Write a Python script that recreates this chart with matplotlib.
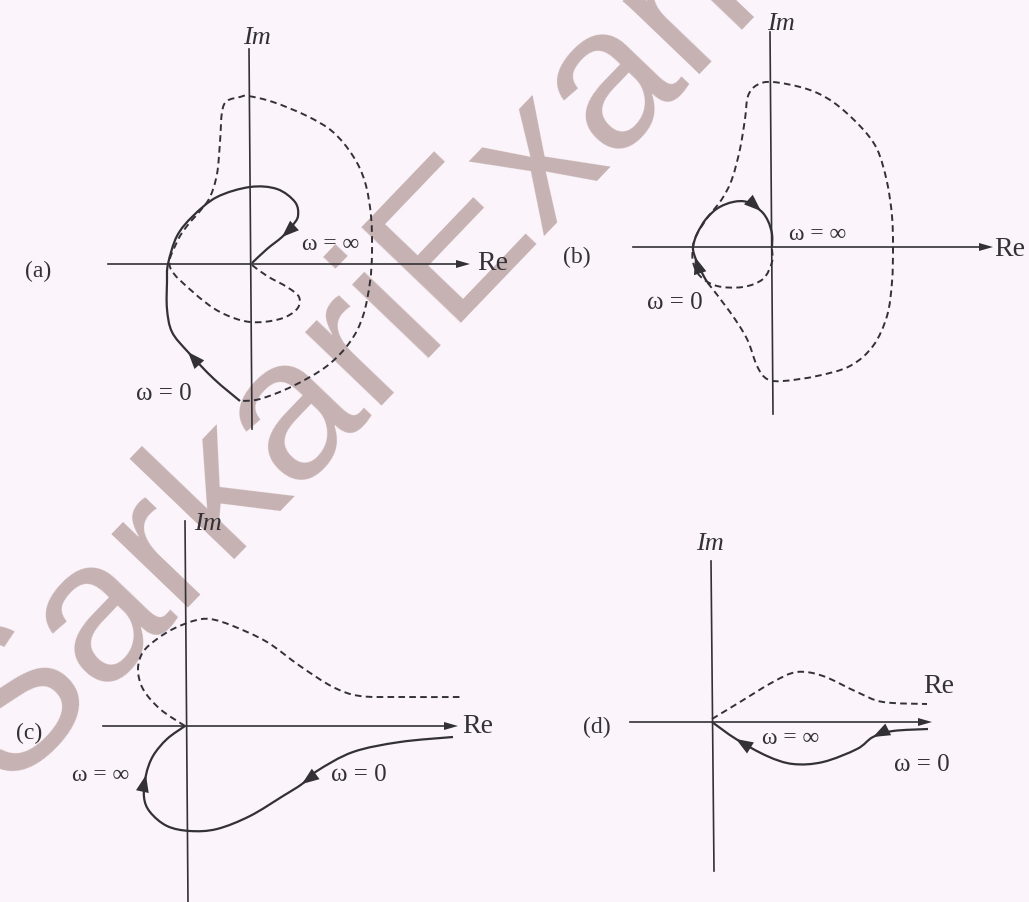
import numpy as np
import matplotlib
matplotlib.use('Agg')
import matplotlib.pyplot as plt
from matplotlib.path import Path
from matplotlib.patches import PathPatch, Polygon

# curves, in image pixels (x right, y down)
a_solid_x = [240, 214, 188, 172, 167, 167, 168, 177, 193, 217, 250, 277, 295, 298, 292, 282, 267, 252]
a_solid_y = [402, 380, 353, 333, 310, 283, 265, 237, 217, 198, 188, 190, 203, 217, 227, 238, 250, 264]
a_dash_x = [252, 267, 287, 299, 297, 280, 250, 220, 193, 170, 177, 187, 200, 210, 217, 220, 222, 227, 240,
            248, 273, 307, 333, 353, 365, 371, 372, 370, 363, 350, 327, 293, 260, 240]
a_dash_y = [266, 277, 288, 298, 310, 320, 323, 313, 293, 268, 243, 227, 212, 198, 175, 143, 113, 102, 98,
            97, 103, 117, 133, 157, 183, 217, 253, 283, 317, 343, 367, 387, 400, 402]

b_solid_x = [707, 700, 695, 693, 697, 706, 718, 733, 747, 761, 768, 772, 772]
b_solid_y = [283, 270, 258, 248, 235, 220, 209, 203, 203, 212, 222, 235, 248]
b_dash_x = [772, 772, 763, 743, 717, 700, 693, 693, 697, 708, 722, 732, 740, 745, 748, 757, 773, 807, 833,
            860, 877, 887, 892, 893, 892, 887, 873, 850, 817, 783, 767, 757, 747, 730, 707]
b_dash_y = [250, 263, 280, 288, 287, 277, 263, 248, 235, 218, 200, 180, 150, 120, 97, 86, 83, 90, 103,
            127, 150, 183, 217, 248, 283, 317, 347, 367, 377, 382, 380, 367, 340, 313, 283]

c_solid_x = [453, 400, 353, 317, 302, 283, 250, 217, 190, 167, 150, 144, 146, 153, 167, 185]
c_solid_y = [738, 743, 753, 772, 785, 797, 817, 830, 832, 827, 813, 798, 776, 757, 740, 727]
c_dash_x = [185, 160, 143, 138, 143, 157, 173, 193, 210, 233, 267, 300, 333, 360, 400, 460]
c_dash_y = [727, 710, 690, 670, 653, 640, 630, 622, 620, 627, 643, 667, 688, 697, 698, 698]

d_solid_x = [928, 893, 873, 857, 823, 793, 767, 736, 712]
d_solid_y = [730, 732, 738, 750, 763, 765, 757, 740, 723]
d_dash_x = [712, 740, 773, 797, 823, 857, 883, 927]
d_dash_y = [720, 703, 683, 673, 677, 693, 703, 705]

# which points of the solid curves carry a direction arrow
a_arrows = [2, 15]
b_arrows = [2, 9]
c_arrows = [4, 12]
d_arrows = [2, 7]

# axes of each sketch: origin, Re from/to, Im from/to
origins = [(250, 265), (771, 248), (186, 727), (712, 723)]
re_ends = [(108, 470), (633, 993), (103, 458), (630, 932)]
im_ends = [(50, 430), (33, 415), (522, 903), (562, 872)]

panel_tags = ['(a)', '(b)', '(c)', '(d)']
tag_xy = [(38, 271), (577, 257), (29, 733), (597, 727)]
im_xy = [(257, 38), (781, 24), (208, 524), (710, 544)]
re_xy = [(493, 264), (1010, 250), (478, 727), (939, 687)]
winf_xy = [(331, 245), (818, 235), (101, 776), (791, 739)]
wzero_xy = [(164, 394), (675, 303), (359, 775), (922, 765)]

ink = '#333135'
serif = ['Liberation Serif', 'DejaVu Serif']


def smooth(xs, ys):
    pts = np.column_stack([xs, ys]).astype(float)
    n = len(pts)
    verts = [pts[0]]
    codes = [Path.MOVETO]
    for i in range(n - 1):
        p0 = pts[max(i - 1, 0)]
        p1 = pts[i]
        p2 = pts[i + 1]
        p3 = pts[min(i + 2, n - 1)]
        verts += [p1 + (p2 - p0) / 6, p2 - (p3 - p1) / 6, p2]
        codes += [Path.CURVE4] * 3
    return Path(verts, codes)


def head(ax, tip, d, length=17, width=13):
    d = np.asarray(d, float)
    d = d / np.hypot(*d)
    nrm = np.array([-d[1], d[0]])
    tip = np.asarray(tip, float)
    base = tip - d * length
    ax.add_patch(Polygon([tip, base + nrm * width / 2, base - nrm * width / 2],
                         closed=True, color=ink, lw=0, zorder=5))


fig = plt.figure(figsize=(10.29, 9.03), dpi=100)
fig.patch.set_facecolor('#fbf4fa')
ax = fig.add_axes([0, 0, 1, 1])
ax.set_xlim(0, 1029)
ax.set_ylim(903, 0)
ax.axis('off')

# watermark
ax.text(368, 336, 'SarkariExam', family='Liberation Sans', fontsize=145, color='#c6b2b3',
        rotation=46.2, ha='center', va='center', rotation_mode='anchor', zorder=1)

curves = [(a_solid_x, a_solid_y, a_dash_x, a_dash_y, a_arrows),
          (b_solid_x, b_solid_y, b_dash_x, b_dash_y, b_arrows),
          (c_solid_x, c_solid_y, c_dash_x, c_dash_y, c_arrows),
          (d_solid_x, d_solid_y, d_dash_x, d_dash_y, d_arrows)]

for k, (sx, sy, dx, dy, arr) in enumerate(curves):
    ox, oy = origins[k]
    x0, x1 = re_ends[k]
    y0, y1 = im_ends[k]
    ax.plot([x0, x1 - 8], [oy, oy], color=ink, lw=1.2, zorder=3)
    head(ax, (x1, oy), (1, 0), length=14, width=8)
    ax.plot([ox - 1, ox + 2], [y0, y1], color=ink, lw=1.2, zorder=3)

    ax.add_patch(PathPatch(smooth(sx, sy), fill=False, ec=ink, lw=1.6, zorder=4))
    ax.add_patch(PathPatch(smooth(dx, dy), fill=False, ec=ink, lw=1.4,
                           linestyle=(0, (3.4, 2.2)), zorder=4))
    for i in arr:
        d = (sx[min(i + 1, len(sx) - 1)] - sx[i - 1], sy[min(i + 1, len(sy) - 1)] - sy[i - 1])
        head(ax, (sx[i], sy[i]), d)

    ax.text(*tag_xy[k], panel_tags[k], family=serif, fontsize=17, color=ink,
            ha='center', va='center', zorder=6)
    ax.text(*im_xy[k], 'Im', family=serif, style='italic', fontsize=19, color=ink,
            ha='center', va='center', zorder=6)
    ax.text(*re_xy[k], 'Re', family=serif, fontsize=20, color=ink, ha='center', va='center', zorder=6)
    ax.text(*winf_xy[k], 'ω = ∞', family=serif, fontsize=17, color=ink, ha='center', va='center', zorder=6)
    ax.text(*wzero_xy[k], 'ω = 0', family=serif, fontsize=18, color=ink, ha='center', va='center', zorder=6)

fig.savefig('out.png', dpi=100, facecolor=fig.get_facecolor())
